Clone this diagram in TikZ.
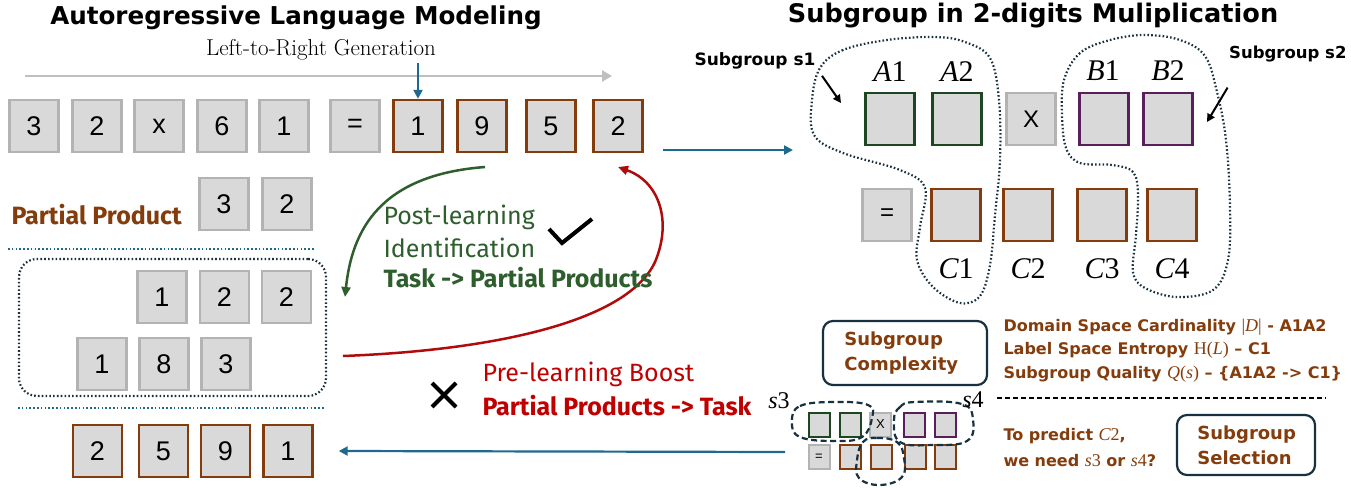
\documentclass[tikz,border=0pt]{standalone}
\usepackage{fontspec}
\newfontfamily\digitfont{Liberation Sans}
\newfontfamily\titlefont{DejaVu Sans}
\newfontfamily\headfont{Fira Sans}
\newfontfamily\varfont{Liberation Serif}
\newcommand\mv[1]{{\varfont\mdseries\itshape #1}}
\newcommand\iv[1]{{\varfont\mdseries\fontsize{18}{20}\selectfont #1}}
\usepackage{tikz}
\usetikzlibrary{arrows.meta}

\definecolor{brn}{HTML}{843C0C}
\definecolor{grnbox}{HTML}{1E4620}
\definecolor{grntxt}{HTML}{2E5E2E}
\definecolor{prp}{HTML}{5A1E5C}
\definecolor{redarr}{HTML}{B00A0A}
\definecolor{redtxt}{HTML}{C00000}
\definecolor{arrblue}{HTML}{1D6A8E}
\definecolor{navy}{HTML}{17313F}
\definecolor{boxfill}{HTML}{D9D9D9}
\definecolor{boxgray}{HTML}{B3B3B3}

\tikzset{
  box/.style={draw=boxgray,fill=boxfill,line width=2.4pt,minimum width=49pt,
    minimum height=52pt,inner sep=0pt,font=\digitfont\fontsize{27}{27}\selectfont},
  brbox/.style={box,draw=brn},
  grbox/.style={box,draw=grnbox},
  pubox/.style={box,draw=prp},
  sbox/.style={draw=boxgray,fill=boxfill,line width=2pt,minimum width=21pt,
    minimum height=24pt,inner sep=0pt,font=\digitfont\fontsize{13}{13}\selectfont},
  mlabel/.style={font=\varfont\fontsize{30}{30}\selectfont},
  bluearrow/.style={draw=arrblue,line width=2.2pt,-{Triangle[length=9pt,width=9pt]}},
  loopline/.style={draw=navy,line width=2.2pt,dash pattern=on 1.6pt off 2.2pt},
  dashloop/.style={draw=navy,line width=2.2pt,dash pattern=on 6pt off 3.5pt},
  roundbox/.style={draw=navy,line width=2.2pt,rounded corners=10pt,inner sep=0pt},
  brtext/.style={text=brn,font=\titlefont\bfseries\fontsize{16}{20}\selectfont,anchor=west},
  learntext/.style={font=\headfont\fontsize{25}{25}\selectfont,anchor=west},
}

\begin{document}
\begin{tikzpicture}[x=1pt,y=-1pt]
\useasboundingbox (0,0) rectangle (1351,487);

% titles
\node[font=\titlefont\bfseries\fontsize{24.6}{26}\selectfont] (ltitle) at (296,18) {Autoregressive Language Modeling};
\node[font=\titlefont\bfseries\fontsize{25.6}{26}\selectfont] (rtitle) at (1033,16) {Subgroup in 2-digits Muliplication};
\node[font=\rmfamily\fontsize{23}{23}\selectfont] (gen) at (321,50) {Left-to-Right Generation};

% generation direction
\coordinate (gs) at (25,76);
\coordinate (ge) at (612,76);
\draw[draw=black!25,line width=2.6pt,-{Triangle[length=10pt,width=11pt]}] (gs) -- (ge);

% top row
\foreach \x/\t [count=\i] in {34/3,97/2,159/x,222/6,284/1,355/=}
  \node[box] (t\i) at (\x,126) {\t};
\foreach \x/\t [count=\i from 7] in {418/1,482/9,551/5,618/2}
  \node[brbox] (t\i) at (\x,126) {\t};
\coordinate (cur) at (418,63);
\draw[bluearrow] (cur) -- (t7.north);

% partial products
\node[text=brn,font=\headfont\bfseries\fontsize{25}{25}\selectfont,anchor=west] (pp) at (8,215) {Partial Product};
\node[box] (p1) at (224,204) {3};
\node[box] (p2) at (287,204) {2};
\draw[draw=arrblue,line width=2.2pt,dash pattern=on 1.6pt off 2.2pt] (8,249) -- (315,249);
\node[draw=navy,line width=2.2pt,dash pattern=on 1.6pt off 2.2pt,rounded corners=18pt,
  minimum width=307pt,minimum height=137pt] (ppbox) at (172.5,327.5) {};
\foreach \x/\t [count=\i] in {162/1,224.5/2,286.5/2}
  \node[box] (a\i) at (\x,297) {\t};
\foreach \x/\t [count=\i] in {102/1,164/8,226/3}
  \node[box] (b\i) at (\x,364) {\t};
\draw[draw=arrblue,line width=2.2pt,dash pattern=on 1.6pt off 2.2pt] (18,408) -- (325,408);
\foreach \x/\t [count=\i] in {97.5/2,163.5/5,225.5/9,288/1}
  \node[brbox] (r\i) at (\x,451) {\t};

% learning arrows
\coordinate (g0) at (485,167);
\coordinate (g1) at (345,297);
\draw[draw=grntxt,line width=2.5pt,-{Triangle[length=10pt,width=9pt]}]
  (g0) .. controls (380,175) and (352,230) .. (g1);
\coordinate (r0) at (343,356);
\coordinate (r1) at (618,167);
\draw[draw=redarr,line width=2.5pt,-{Triangle[length=10pt,width=9pt]}]
  (r0) .. controls (500,350) and (628,320) .. (655,262) .. controls (672,222) and (660,182) .. (r1);

\node[learntext,text=grntxt] (post1) at (380,217) {Post-learning};
\node[learntext,text=grntxt] (post2) at (380,248) {Identification};
\node[learntext,text=grntxt,font=\headfont\bfseries\fontsize{25}{25}\selectfont] (post3) at (380,278) {Task -> Partial Products};
\draw[line width=4pt] (549,229) -- (562,243) -- (592,219);

\node[learntext,text=redtxt] (pre1) at (479,374) {Pre-learning Boost};
\node[learntext,text=redtxt,font=\headfont\bfseries\fontsize{25}{25}\selectfont] (pre2) at (479,406) {Partial Products -> Task};
\draw[line width=4pt] (432,383) -- (456,407) (456,383) -- (432,407);

% subgroups
\coordinate (rin) at (793,150);
\draw[bluearrow] (t10.east |- rin) ++(19,0) -- (rin);
\node[grbox] (A1) at (890,119) {};
\node[grbox] (A2) at (957,119) {};
\node[box] (mul) at (1031,119) {\fontsize{24}{24}\selectfont X};
\node[pubox] (B1) at (1104,119) {};
\node[pubox] (B2) at (1168,119) {};
\node[box] (eq) at (887,215) {\fontsize{24}{24}\selectfont =};
\foreach \x/\n in {956/1,1028/2,1102/3,1172/4}
  \node[brbox] (C\n) at (\x,215) {};
\node[mlabel] at (890,72) {\mv{A}1};
\node[mlabel] at (957,72) {\mv{A}2};
\node[mlabel] at (1103,71) {\mv{B}1};
\node[mlabel] at (1168,71) {\mv{B}2};
\foreach \n in {1,...,4}
  \node[mlabel] at ([yshift=-54]C\n.center) {\mv{C}\n};

\draw[loopline] plot[smooth cycle,tension=0.6] coordinates {(887,40) (843,50) (820,68) (812,100) (814,135) (843,153) (900,170) (925,188) (920,227) (917,260) (933,287) (960,303) (980,296) (990,265) (995,215) (1000,160) (999,100) (990,58) (965,42) (935,37)};
\draw[loopline] plot[smooth cycle,tension=0.6] coordinates {(1110,40) (1080,53) (1064,80) (1062,115) (1066,148) (1080,163) (1112,165) (1133,172) (1138,195) (1136,235) (1133,272) (1145,288) (1177,297) (1213,290) (1228,260) (1230,207) (1226,140) (1217,92) (1205,56) (1180,40) (1145,35)};

\node[font=\titlefont\bfseries\fontsize{17}{17}\selectfont,anchor=east] (s1) at (819,61) {Subgroup s1};
\node[font=\titlefont\bfseries\fontsize{16.5}{17}\selectfont,anchor=east] (s2) at (1350,54) {Subgroup s2};
\draw[line width=2pt,-{Triangle[length=8pt,width=8pt]}] (s1.south east) ++(3,3) -- (841,103);
\draw[line width=2pt,-{Triangle[length=8pt,width=8pt]}] (s2.south west) ++(2,22) -- (1207,122);

% subgroup complexity and selection
\node[roundbox,minimum width=164pt,minimum height=64pt] (cplx) at (905,353) {};
\node[text=brn,font=\titlefont\bfseries\fontsize{18}{25}\selectfont,align=left,anchor=west] at ([xshift=19]cplx.west) {Subgroup\\Complexity};
\node[brtext] (d1) at (1000,327) {Domain Space Cardinality \iv{|\mv{D}|} - A1A2};
\node[brtext] (d2) at (1000,350) {Label Space Entropy \iv{H(\mv{L})} – C1};
\node[brtext] (d3) at (1000,374) {Subgroup Quality \iv{\mv{Q}(\mv{s})} – \{A1A2 -> C1\}};
\draw[line width=2pt,dash pattern=on 5pt off 3pt] (997,398) -- (1326,398);

\node[roundbox,minimum width=138pt,minimum height=60pt] (sel) at (1246,445) {};
\node[text=brn,font=\titlefont\bfseries\fontsize{18}{25}\selectfont,align=left,anchor=west] at ([xshift=18]sel.west) {Subgroup\\Selection};
\node[brtext] (q1) at (1000,436) {To predict \iv{\mv{C}2},};
\node[brtext] (q2) at (1000,461) {we need \iv{\mv{s}3} or \iv{\mv{s}4}?};

\foreach \x/\c [count=\i] in {819/grnbox,850/grnbox,880.5/boxgray,914/prp,945.5/prp}
  \node[sbox,draw=\c] (u\i) at (\x,424.5) {};
\node[font=\digitfont\fontsize{13}{13}\selectfont] at (u3) {X};
\node[sbox] (v1) at (819,457) {=};
\foreach \x [count=\i from 2] in {850,881,915,945}
  \node[sbox,draw=brn] (v\i) at (\x,457) {};

\draw[dashloop] plot[smooth cycle,tension=0.7] coordinates {(792,422) (800,406) (835,402) (868,405) (872,418) (862,437) (835,441) (800,437)};
\draw[dashloop] plot[smooth cycle,tension=0.7] coordinates {(894,420) (900,407) (915,402) (962,404) (973,420) (967,441) (933,445) (900,442)};
\draw[dashloop] plot[smooth cycle,tension=0.7] coordinates {(863,442) (877,438) (897,442) (904,458) (902,477) (880,485) (859,478) (857,460)};
\node[mlabel,font=\varfont\fontsize{24}{24}\selectfont] at (779,401) {\mv{s}3};
\node[mlabel,font=\varfont\fontsize{24}{24}\selectfont] at (973,400) {\mv{s}4};

\coordinate (bout) at (785,452);
\draw[bluearrow] (bout) -- ([xshift=25]r4.east);
\end{tikzpicture}
\end{document}
